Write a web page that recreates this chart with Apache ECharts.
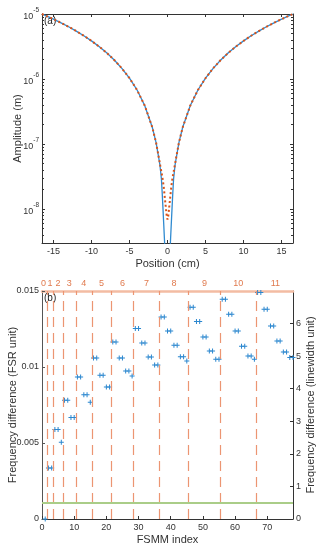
<!DOCTYPE html>
<html>
<head>
<meta charset="utf-8">
<script src="https://cdn.jsdelivr.net/npm/echarts@6/dist/echarts.min.js"></script>
<style>
html, body { margin: 0; padding: 0; background: #fff; }
#main { width: 335px; height: 552px; }
</style>
</head>
<body>
<div id="main"></div>
<script>
// panel (a): amplitude along the position
const position = [-16.5, -16, -15, -14, -13, -12, -11, -10, -9, -8, -7, -6, -5, -4, -3, -2, -1.5, -1, -0.8, -0.7, -0.6, -0.5, -0.4, -0.3, -0.2, -0.1, 0,
  0.1, 0.2, 0.3, 0.4, 0.5, 0.6, 0.7, 0.8, 1, 1.5, 2, 3, 4, 5, 6, 7, 8, 9, 10, 11, 12, 13, 14, 15, 16, 16.5];
const ampSolid = [1.00e-5, 9.43e-6, 8.34e-6, 7.32e-6, 6.36e-6, 5.46e-6, 4.63e-6, 3.86e-6, 3.16e-6, 2.53e-6, 1.96e-6, 1.46e-6, 1.03e-6, 6.77e-7, 3.92e-7, 1.81e-7, 1.05e-7, 4.8e-8, 2.9e-8, 1.8e-8, 1.05e-8, 6.0e-9, 3.4e-9, 1.8e-9, 8e-10, 2e-10, 1e-11,
  2e-10, 8e-10, 1.8e-9, 3.4e-9, 6.0e-9, 1.05e-8, 1.8e-8, 2.9e-8, 4.8e-8, 1.05e-7, 1.81e-7, 3.92e-7, 6.77e-7, 1.03e-6, 1.46e-6, 1.96e-6, 2.53e-6, 3.16e-6, 3.86e-6, 4.63e-6, 5.46e-6, 6.36e-6, 7.32e-6, 8.34e-6, 9.43e-6, 1.00e-5];
const ampDotted = [1.00e-5, 9.43e-6, 8.34e-6, 7.32e-6, 6.36e-6, 5.46e-6, 4.63e-6, 3.86e-6, 3.16e-6, 2.53e-6, 1.96e-6, 1.46e-6, 1.03e-6, 6.77e-7, 3.92e-7, 1.81e-7, 1.05e-7, 5.0e-8, 3.7e-8, 3.2e-8, 2.7e-8, 2.2e-8, 1.7e-8, 1.3e-8, 1.0e-8, 7.8e-9, 6.9e-9,
  7.8e-9, 1.0e-8, 1.3e-8, 1.7e-8, 2.2e-8, 2.7e-8, 3.2e-8, 3.7e-8, 5.0e-8, 1.05e-7, 1.81e-7, 3.92e-7, 6.77e-7, 1.03e-6, 1.46e-6, 1.96e-6, 2.53e-6, 3.16e-6, 3.86e-6, 4.63e-6, 5.46e-6, 6.36e-6, 7.32e-6, 8.34e-6, 9.43e-6, 1.00e-5];
const posTicks = [-15, -10, -5, 0, 5, 10, 15];
const ampTicks = [1e-8, 1e-7, 1e-6, 1e-5];

// panel (b): frequency difference per FSMM index
const fsmmIndex = [1, 2, 3, 4, 5, 6, 7, 8, 9, 10, 11, 12, 13, 14, 15, 16, 17, 18, 19, 20, 21, 22, 23, 24, 25, 26, 27, 28, 29, 30,
  31, 32, 33, 34, 35, 36, 37, 38, 39, 40, 41, 42, 43, 44, 45, 46, 47, 48, 49, 50, 51, 52, 53, 54, 55, 56, 57, 58, 59, 60,
  61, 62, 63, 64, 65, 66, 67, 68, 69, 70, 71, 72, 73, 74, 75, 76, 77, 78];
const fsrDiff = [0, 0.00336, 0.00336, 0.00588, 0.00588, 0.00505, 0.00781, 0.00781, 0.00667, 0.00667,
  0.00934, 0.00934, 0.00818, 0.00818, 0.00768, 0.01059, 0.01059, 0.00945, 0.00945, 0.00868, 0.00868,
  0.01164, 0.01164, 0.01059, 0.01059, 0.00974, 0.00974, 0.00941,
  0.01253, 0.01253, 0.01158, 0.01158, 0.01066, 0.01066, 0.01013, 0.01013,
  0.01329, 0.01329, 0.01237, 0.01237, 0.01143, 0.01143, 0.01068, 0.01068, 0.01039,
  0.01393, 0.01393, 0.01299, 0.01299, 0.01197, 0.01197, 0.01105, 0.01105, 0.01051, 0.01051,
  0.01445, 0.01445, 0.01347, 0.01347, 0.01237, 0.01237, 0.01136, 0.01136, 0.01072, 0.01072, 0.01051,
  0.0149, 0.0149, 0.0138, 0.0138, 0.0127, 0.0127, 0.01171, 0.01171, 0.01099, 0.01099, 0.01062, 0.01062];
const groupBounds = [1.5, 3.5, 6.5, 10.5, 15.5, 21.5, 28.5, 36.5, 45.5, 55.5, 66.5];
const groupCenters = [0.5, 2.5, 5, 8.5, 13, 18.5, 25, 32.5, 41, 50.5, 61, 72.5];
const groupNames = ['0', '1', '2', '3', '4', '5', '6', '7', '8', '9', '10', '11'];
const indexTicks = [0, 10, 20, 30, 40, 50, 60, 70];
const fsrTicks = [0, 0.005, 0.01, 0.015];
const lwTicks = [0, 1, 2, 3, 4, 5, 6];
const lwLimit = 0.5;

// minor log ticks 2..9 x 10^n inside the amplitude range
const ampMinorTicks = [];
for (let e = -9; e <= -6; e++) {
  for (let m = 2; m <= 9; m++) {
    const v = m * Math.pow(10, e);
    if (v >= 3e-9 && v < 1e-5) ampMinorTicks.push(v);
  }
}

const FONT = 'Liberation Sans, Arial, sans-serif';
const TXT = '#333';
const ORANGE = '#e07a4e';

function boxAxis(extra) {
  return Object.assign({
    axisLine: { show: true, onZero: false, lineStyle: { color: '#333', width: 1 } },
    splitLine: { show: false },
    axisLabel: { show: false },
    axisTick: { show: false },
    nameMoveOverlap: false,
    nameTextStyle: { fontFamily: FONT, fontSize: 11, color: TXT }
  }, extra);
}

function minorLogAxis(pos) {
  return boxAxis({
    gridIndex: 0, type: 'log', logBase: 10, position: pos, min: 3e-9, max: 1e-5,
    axisLine: { show: false, onZero: false },
    axisTick: { show: true, inside: true, length: 2, customValues: ampMinorTicks, lineStyle: { color: '#333' } }
  });
}

const chart = echarts.init(document.getElementById('main'));

const option = {
  backgroundColor: '#fff',
  animation: false,
  textStyle: { fontFamily: FONT },
  grid: [
    { left: 42, right: 42, top: 14, bottom: 309, outerBoundsMode: 'none' },
    { left: 42, right: 42, top: 291, bottom: 33, outerBoundsMode: 'none' }
  ],
  xAxis: [
    boxAxis({
      gridIndex: 0, type: 'value', position: 'bottom', min: -16.5, max: 16.5,
      axisTick: { show: true, inside: true, length: 3, customValues: posTicks, lineStyle: { color: '#333' } },
      axisLabel: { show: true, customValues: posTicks, fontSize: 9, color: TXT, margin: 4 },
      name: 'Position (cm)', nameLocation: 'middle', nameGap: 15
    }),
    boxAxis({
      gridIndex: 0, type: 'value', position: 'top', min: -16.5, max: 16.5,
      axisTick: { show: true, inside: true, length: 3, customValues: posTicks, lineStyle: { color: '#333' } }
    }),
    boxAxis({
      gridIndex: 1, type: 'value', position: 'bottom', min: 0, max: 78,
      axisTick: { show: true, inside: true, length: 3, customValues: indexTicks, lineStyle: { color: '#333' } },
      axisLabel: { show: true, customValues: indexTicks, fontSize: 9, color: TXT, margin: 4 },
      name: 'FSMM index', nameLocation: 'middle', nameGap: 15
    }),
    boxAxis({
      gridIndex: 1, type: 'value', position: 'top', min: 0, max: 78,
      axisLine: { show: true, onZero: false, lineStyle: { color: '#f3bca3', width: 2.5 } },
      axisLabel: {
        show: true, customValues: groupCenters, fontSize: 9, color: ORANGE, margin: 3,
        formatter: v => groupNames[groupCenters.indexOf(v)]
      }
    })
  ],
  yAxis: [
    boxAxis({
      gridIndex: 0, type: 'log', logBase: 10, position: 'left', min: 3e-9, max: 1e-5,
      axisTick: { show: true, inside: true, length: 3, customValues: ampTicks, lineStyle: { color: '#333' } },
      axisLabel: {
        show: true, customValues: ampTicks, color: TXT, margin: 3,
        formatter: v => '{b|10}{s|' + Math.round(Math.log10(v)) + '}',
        rich: {
          b: { fontSize: 9, lineHeight: 14, verticalAlign: 'bottom', color: TXT },
          s: { fontSize: 6.5, lineHeight: 14, verticalAlign: 'top', color: TXT }
        }
      },
      name: 'Amplitude (m)', nameLocation: 'middle', nameGap: 19, nameRotate: 90
    }),
    boxAxis({
      gridIndex: 0, type: 'log', logBase: 10, position: 'right', min: 3e-9, max: 1e-5,
      axisTick: { show: true, inside: true, length: 3, customValues: ampTicks, lineStyle: { color: '#333' } }
    }),
    boxAxis({
      gridIndex: 1, type: 'value', position: 'left', min: 0, max: 0.015,
      axisLine: { show: true, onZero: false, lineStyle: { color: '#555', width: 1 } },
      axisTick: { show: true, inside: true, length: 3, customValues: fsrTicks, lineStyle: { color: '#555' } },
      axisLabel: { show: true, customValues: fsrTicks, fontSize: 9, color: TXT, margin: 3 },
      name: 'Frequency difference (FSR unit)', nameLocation: 'middle', nameGap: 24, nameRotate: 90
    }),
    boxAxis({
      gridIndex: 1, type: 'value', position: 'right', min: 0, max: 7,
      axisTick: { show: true, inside: true, length: 3, customValues: lwTicks, lineStyle: { color: '#333' } },
      axisLabel: { show: true, customValues: lwTicks, fontSize: 9, color: TXT, margin: 3 },
      name: 'Frequency difference (linewidth unit)', nameLocation: 'middle', nameGap: 12, nameRotate: 90
    }),
    minorLogAxis('left'),
    minorLogAxis('right')
  ],
  series: [
    {
      type: 'line', xAxisIndex: 0, yAxisIndex: 0, showSymbol: false, clip: true,
      data: position.map((x, i) => [x, ampSolid[i]]),
      lineStyle: { color: '#2f8ad0', width: 1.3 }
    },
    {
      type: 'line', xAxisIndex: 0, yAxisIndex: 0, showSymbol: false, clip: true,
      data: position.map((x, i) => [x, ampDotted[i]]),
      lineStyle: { color: '#d95319', width: 2, type: [2, 2.5], cap: 'butt' }
    },
    {
      type: 'line', xAxisIndex: 2, yAxisIndex: 2, data: [], z: 1,
      markLine: {
        silent: true, symbol: 'none', label: { show: false },
        lineStyle: { color: '#ec9572', width: 1.2, type: [10, 6] },
        data: groupBounds.map(v => ({ xAxis: v }))
      }
    },
    {
      type: 'line', xAxisIndex: 2, yAxisIndex: 3, data: [], z: 1,
      markLine: {
        silent: true, symbol: 'none', label: { show: false },
        lineStyle: { color: '#aacd88', width: 2, type: 'solid' },
        data: [{ yAxis: lwLimit }]
      }
    },
    {
      type: 'scatter', xAxisIndex: 2, yAxisIndex: 2, z: 3,
      symbol: 'path://M2,0h1v2h2v1h-2v2h-1v-2h-2v-1h2z',
      symbolSize: [5, 5],
      itemStyle: { color: '#2b87cf', opacity: 1 },
      data: fsmmIndex.map((x, i) => [x, fsrDiff[i]])
    }
  ],
  graphic: [
    { type: 'text', left: 44, top: 16, style: { text: '(a)', fontSize: 10, fontFamily: FONT, fill: '#222' } },
    { type: 'text', left: 44, top: 293, style: { text: '(b)', fontSize: 10, fontFamily: FONT, fill: '#222' } }
  ]
};

chart.setOption(option);
</script>
</body>
</html>
